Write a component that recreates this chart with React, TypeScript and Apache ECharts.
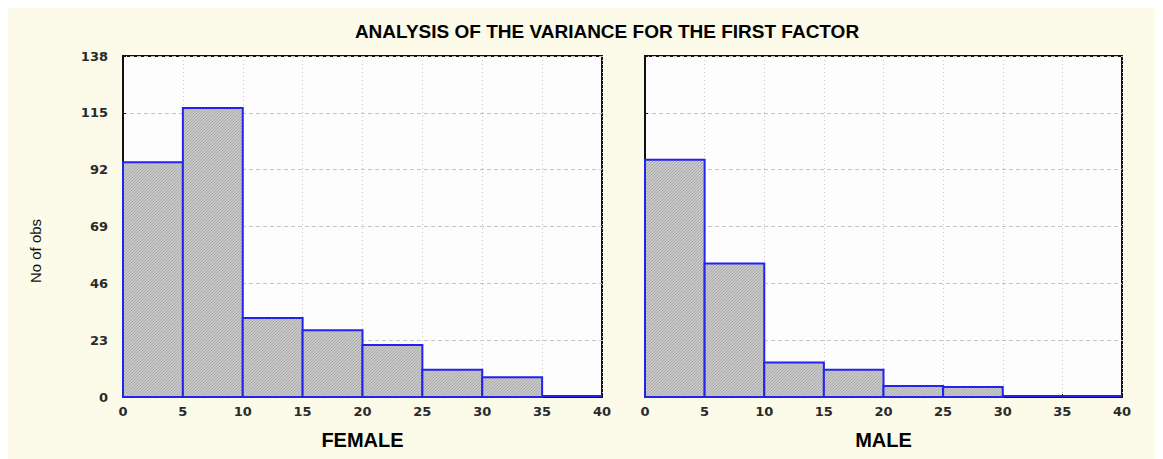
import React, { useEffect, useRef } from "react";
import * as echarts from "echarts";

const binStarts = [0, 5, 10, 15, 20, 25, 30, 35];
const binEnds = [5, 10, 15, 20, 25, 30, 35, 40];
const femaleCounts = [95, 117, 32, 27, 21, 11, 8, 0];
const maleCounts = [96, 54, 14, 11, 4.5, 4, 0, 0];
const yTicks = [0, 23, 46, 69, 92, 115, 138];
const xTicks = [0, 5, 10, 15, 20, 25, 30, 35, 40];
const titleText = "ANALYSIS OF THE VARIANCE FOR THE FIRST FACTOR";
const panelNames = ["FEMALE", "MALE"];
const yAxisName = "No of obs";

function makePattern(): any {
  const c = document.createElement("canvas");
  c.width = 3;
  c.height = 3;
  const ctx = c.getContext("2d");
  if (!ctx) return "#bdbdbd";
  ctx.fillStyle = "#c9c9c9";
  ctx.fillRect(0, 0, 3, 3);
  ctx.fillStyle = "#a9a9a9";
  ctx.fillRect(0, 2, 1, 1);
  ctx.fillRect(1, 1, 1, 1);
  ctx.fillRect(2, 0, 1, 1);
  return { image: c, repeat: "repeat" };
}

export default function App() {
  const ref = useRef<HTMLDivElement>(null);
  useEffect(() => {
    document.body.style.overflow = "hidden";
    const chart = echarts.init(ref.current!, null, { renderer: "svg" });
    const pattern = makePattern();
    const blue = "#2323f0";
    const renderItem = (params: any, api: any) => {
      const x0 = api.value(0);
      const x1 = api.value(1);
      const y = api.value(2);
      const p0 = api.coord([x0, y]);
      const p1 = api.coord([x1, 0]);
      if (y === 0) {
        return {
          type: "line",
          shape: { x1: p0[0], y1: p1[1] - 1, x2: p1[0], y2: p1[1] - 1 },
          style: { stroke: blue, lineWidth: 2 },
        };
      }
      return {
        type: "rect",
        shape: { x: p0[0], y: p0[1], width: p1[0] - p0[0], height: p1[1] - p0[1] },
        style: { fill: pattern, stroke: blue, lineWidth: 2 },
      };
    };
    const mk = (counts: number[]) => binStarts.map((s, i) => [s, binEnds[i], counts[i]]);
    const grids = [
      { left: 115, top: 48, width: 479, height: 341 },
      { left: 637, top: 48, width: 477, height: 341 },
    ];
    const tickFont = { fontFamily: "DejaVu Sans", fontWeight: "bold" as const, fontSize: 13, color: "#2a2a2a" };
    const option: any = {
      animation: false,
      backgroundColor: "#fcfae8",
      graphic: [
        {
          type: "text",
          x: 599,
          y: 23,
          style: {
            text: titleText,
            font: "bold 19px 'Liberation Sans', Arial, sans-serif",
            fill: "#000",
            textAlign: "center",
            textVerticalAlign: "middle",
          },
        },
        {
          type: "text",
          x: 27,
          y: 243,
          rotation: Math.PI / 2,
          style: {
            text: yAxisName,
            font: "15px 'Liberation Sans', Arial, sans-serif",
            fill: "#111",
            textAlign: "center",
            textVerticalAlign: "middle",
          },
        },
      ],
      grid: grids.map((g) => ({
        ...g,
        show: true,
        backgroundColor: "#fdfdfd",
        borderColor: "#111",
        borderWidth: 2,
      })),
      xAxis: [0, 1].map((i) => ({
        type: "value",
        gridIndex: i,
        min: 0,
        max: 40,
        interval: 5,
        name: panelNames[i],
        nameLocation: "middle",
        nameGap: 33,
        nameTextStyle: { fontFamily: "Liberation Sans", fontWeight: "bold", fontSize: 20, color: "#000" },
        axisLine: { show: true, lineStyle: { color: "#111", width: 2 } },
        axisTick: { show: true, inside: true, length: 3, lineStyle: { color: "#111" } },
        axisLabel: { ...tickFont, margin: 8, formatter: (v: number) => (xTicks.includes(v) ? String(v) : "") },
        splitLine: { show: true, lineStyle: { color: "#c4c4c4", type: [1, 3], width: 1 } },
      })),
      yAxis: [0, 1].map((i) => ({
        type: "value",
        gridIndex: i,
        min: 0,
        max: 138,
        interval: 23,
        axisLine: { show: true, lineStyle: { color: "#111", width: 2 } },
        axisTick: { show: true, inside: true, length: 3, lineStyle: { color: "#111" } },
        axisLabel: {
          show: i === 0,
          ...tickFont,
          margin: 15,
          formatter: (v: number) => (yTicks.includes(v) ? String(v) : ""),
        },
        splitLine: { show: true, lineStyle: { color: "#c4c4c4", type: [4, 3], width: 1 } },
      })),
      series: [
        { type: "custom", xAxisIndex: 0, yAxisIndex: 0, renderItem, data: mk(femaleCounts), clip: false },
        { type: "custom", xAxisIndex: 1, yAxisIndex: 1, renderItem, data: mk(maleCounts), clip: false },
      ],
    };
    chart.setOption(option);
    return () => chart.dispose();
  }, []);
  return <div ref={ref} style={{ width: 1155, height: 451 }} />;
}
